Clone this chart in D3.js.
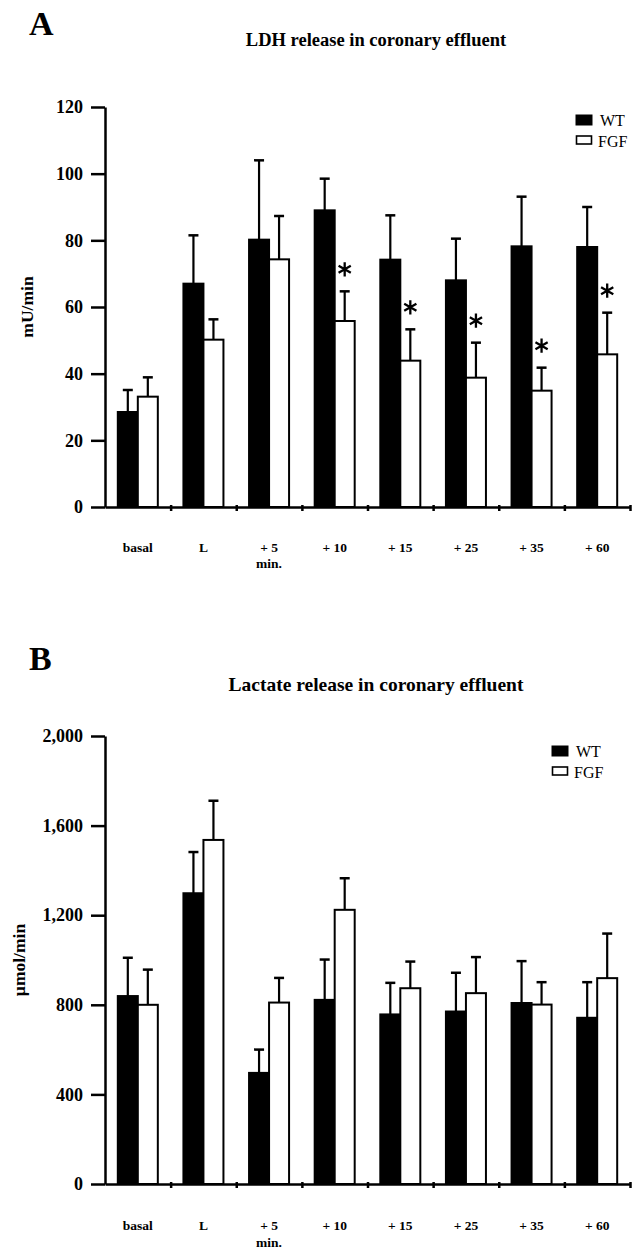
<!DOCTYPE html>
<html>
<head>
<meta charset="utf-8">
<script src="https://cdn.jsdelivr.net/npm/d3@7"></script>
<style>
  body { margin: 0; background: #fff; }
  svg { display: block; font-family: "Liberation Serif", "Times New Roman", serif; }
</style>
</head>
<body>
<svg width="633" height="1251"></svg>
<script>
const categories = ['basal', 'L', '+ 5', '+ 10', '+ 15', '+ 25', '+ 35', '+ 60'];
const series = ['WT', 'FGF'];

// panel A - LDH release (mU/min), mean and SEM
const ldhWT = [28.5, 67, 80.2, 89, 74.2, 68, 78.2, 78];
const ldhWTsem = [6.6, 14.5, 23.8, 9.5, 13.3, 12.5, 14.9, 12];
const ldhFGF = [33.1, 50.2, 74.3, 55.8, 43.9, 38.8, 34.9, 45.8];
const ldhFGFsem = [5.8, 6.1, 13, 8.9, 9.4, 10.5, 6.9, 12.5];
const ldhSignif = [false, false, false, true, true, true, true, true];
const ldhTicks = [0, 20, 40, 60, 80, 100, 120];

// panel B - lactate release (umol/min)
const lacWT = [839, 1298, 496, 822, 757, 770, 808, 742];
const lacWTsem = [171, 184, 104, 180, 141, 173, 187, 159];
const lacFGF = [800, 1536, 810, 1224, 874, 852, 801, 919];
const lacFGFsem = [157, 175, 110, 141, 119, 161, 100, 199];
const lacSignif = [false, false, false, false, false, false, false, false];
const lacTicks = [0, 400, 800, 1200, 1600, 2000];

const svg = d3.select('svg');
svg.append('rect').attr('width', 633).attr('height', 1251).attr('fill', '#fff');

const left = 105, right = 630;

function drawPanel(p) {
  const g = svg.append('g');

  const y = d3.scaleLinear()
      .domain([0, d3.max(p.ticks)])
      .range([p.y0, p.y1]);

  const x = d3.scaleBand()
      .domain(categories)
      .range([left, right]);

  const xs = d3.scaleBand()
      .domain(series)
      .range([0, x.bandwidth()])
      .paddingOuter(0.64);

  // letter + title
  g.append('text')
      .attr('x', 29).attr('y', p.letterY)
      .attr('font-size', 34).attr('font-weight', 'bold')
      .text(p.letter);
  g.append('text')
      .attr('x', 376).attr('y', p.titleY)
      .attr('text-anchor', 'middle')
      .attr('font-size', p.titleSize).attr('font-weight', 'bold')
      .text(p.title);

  // y axis
  const yAxis = g.append('g')
      .attr('transform', `translate(${left},0)`)
      .call(d3.axisLeft(y)
        .tickValues(p.ticks)
        .tickSizeInner(14)
        .tickSizeOuter(0)
        .tickPadding(8)
        .tickFormat(d3.format(',')));
  yAxis.select('.domain').attr('stroke-width', 2.5);
  yAxis.selectAll('.tick line').attr('stroke-width', 2.5);
  yAxis.selectAll('.tick text')
      .attr('font-family', '"Liberation Serif", serif')
      .attr('font-size', 18).attr('font-weight', 'bold')
      .attr('fill', '#000');

  g.append('text')
      .attr('transform', `translate(${p.yLabelX},${(p.y0 + p.y1) / 2}) rotate(-90)`)
      .attr('text-anchor', 'middle')
      .attr('dy', '0.35em')
      .attr('font-size', 17.5).attr('font-weight', 'bold')
      .text(p.yLabel);

  // bars
  const rows = categories.map((c, i) => ({
    cat: c,
    vals: [
      {key: 'WT', v: p.wt[i], e: p.wtSem[i], sig: false},
      {key: 'FGF', v: p.fgf[i], e: p.fgfSem[i], sig: p.signif[i]}
    ]
  }));

  const grp = g.selectAll('.grp')
    .data(rows)
    .enter().append('g')
      .attr('transform', d => `translate(${x(d.cat)},0)`);

  const bar = grp.selectAll('.bar')
    .data(d => d.vals)
    .enter().append('g');

  bar.append('line')
      .attr('x1', d => xs(d.key) + xs.bandwidth() / 2)
      .attr('x2', d => xs(d.key) + xs.bandwidth() / 2)
      .attr('y1', d => y(d.v))
      .attr('y2', d => y(d.v + d.e))
      .attr('stroke', '#000').attr('stroke-width', 2.2);
  bar.append('line')
      .attr('x1', d => xs(d.key) + xs.bandwidth() / 2 - 5)
      .attr('x2', d => xs(d.key) + xs.bandwidth() / 2 + 5)
      .attr('y1', d => y(d.v + d.e))
      .attr('y2', d => y(d.v + d.e))
      .attr('stroke', '#000').attr('stroke-width', 2.5);

  bar.append('rect')
      .attr('x', d => xs(d.key))
      .attr('width', xs.bandwidth())
      .attr('y', d => y(d.v))
      .attr('height', d => y(0) - y(d.v))
      .attr('fill', d => d.key === 'WT' ? '#000' : '#fff')
      .attr('stroke', '#000').attr('stroke-width', 2);

  // significance stars
  bar.filter(d => d.sig).append('path')
      .attr('d', d3.symbol(d3.symbolAsterisk, 140))
      .attr('transform', d => `translate(${xs(d.key) + xs.bandwidth() / 2},${y(d.v + d.e) - 22})`)
      .attr('fill', 'none').attr('stroke', '#000').attr('stroke-width', 2.3);

  // x axis with ticks between groups
  const xb = d3.scaleLinear().domain([0, categories.length]).range([left, right]);
  const xAxis = g.append('g')
      .attr('transform', `translate(0,${y(0)})`)
      .call(d3.axisBottom(xb)
        .tickValues(d3.range(1, categories.length + 1))
        .tickSizeInner(6)
        .tickSizeOuter(0)
        .tickFormat(''));
  xAxis.select('.domain').attr('stroke-width', 2.5);
  xAxis.selectAll('.tick line').attr('stroke-width', 2.5).attr('y1', -2).attr('y2', 4);

  g.selectAll('.xlab')
    .data(categories)
    .enter().append('text')
      .attr('x', d => x(d) + x.bandwidth() / 2)
      .attr('y', p.xLabelY)
      .attr('text-anchor', 'middle')
      .attr('font-size', 13.5).attr('font-weight', 'bold')
      .text(d => d);
  g.append('text')
      .attr('x', x('+ 5') + x.bandwidth() / 2)
      .attr('y', p.minY)
      .attr('text-anchor', 'middle')
      .attr('font-size', 13.5).attr('font-weight', 'bold')
      .text('min.');

  // legend
  const lg = g.append('g').attr('transform', `translate(${p.legendX},${p.legendY})`);
  lg.append('rect').attr('x', 0).attr('y', 0).attr('width', 16).attr('height', 10)
      .attr('fill', '#000').attr('stroke', '#000').attr('stroke-width', 1);
  lg.append('text').attr('x', 24).attr('y', 11).attr('font-size', 16).text(series[0]);
  lg.append('rect').attr('x', 0.5).attr('y', 21).attr('width', 15).attr('height', 8)
      .attr('fill', '#fff').attr('stroke', '#000').attr('stroke-width', 1.6);
  lg.append('text').attr('x', 22).attr('y', 32).attr('font-size', 16).text(series[1]);
}

drawPanel({
  letter: 'A', letterY: 35,
  title: 'LDH release in coronary effluent', titleY: 46, titleSize: 18.5,
  yLabel: 'mU/min', yLabelX: 27,
  wt: ldhWT, wtSem: ldhWTsem, fgf: ldhFGF, fgfSem: ldhFGFsem, signif: ldhSignif,
  ticks: ldhTicks, y0: 507, y1: 107,
  xLabelY: 552, minY: 568,
  legendX: 576, legendY: 115
});

drawPanel({
  letter: 'B', letterY: 670,
  title: 'Lactate release in coronary effluent', titleY: 691, titleSize: 19.5,
  yLabel: 'µmol/min', yLabelX: 19,
  wt: lacWT, wtSem: lacWTsem, fgf: lacFGF, fgfSem: lacFGFsem, signif: lacSignif,
  ticks: lacTicks, y0: 1184, y1: 736,
  xLabelY: 1230, minY: 1247,
  legendX: 552, legendY: 746
});
</script>
</body>
</html>
